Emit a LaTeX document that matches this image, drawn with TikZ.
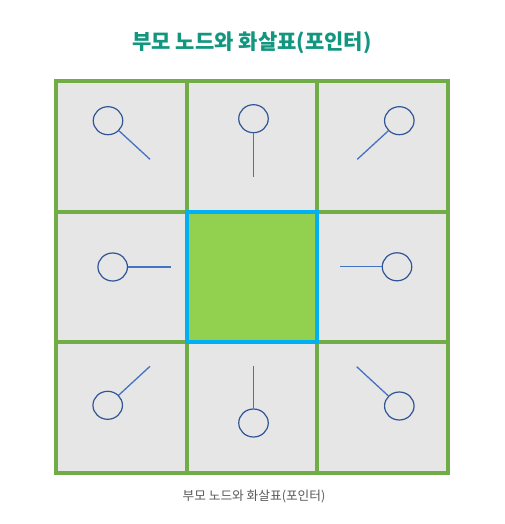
\documentclass[tikz,border=0pt]{standalone}
\usepackage{fontspec}
\newfontfamily\krfont{Noto Sans CJK KR}
\usetikzlibrary{shapes.geometric}
\definecolor{gridgreen}{HTML}{70AD47}
\definecolor{cellgray}{HTML}{E6E6E6}
\definecolor{leafgreen}{HTML}{92D050}
\definecolor{skyblue}{HTML}{00B0F0}
\definecolor{ringblue}{HTML}{2F5597}
\definecolor{stickblue}{HTML}{4472C4}
\definecolor{titleteal}{HTML}{13967F}
\definecolor{capgray}{HTML}{595959}

\begin{document}
\begin{tikzpicture}[x=1pt, y=-1pt]
\tikzstyle{cellbox} = [rectangle, draw=gridgreen, fill=cellgray, line width=4pt, minimum size=130.7pt, inner sep=0pt, outer sep=0pt]
\tikzstyle{parentbox} = [cellbox, draw=skyblue, fill=leafgreen]
\tikzstyle{ring} = [ellipse, draw=ringblue, line width=1.2pt, minimum width=29.5pt, minimum height=28pt, inner sep=0pt]
\tikzstyle{stick} = [draw=stickblue, line width=1.3pt]

\useasboundingbox (0,0) rectangle (505,524);

\node (title) at (252,43) {\krfont\bfseries\fontsize{21}{25}\selectfont\color{titleteal}부모 노드와 화살표(포인터)};

% 3x3 grid of cells
\foreach \r in {0,1,2} {
  \foreach \c in {0,1,2} {
    \node (cell\r\c) [cellbox] at (121.35+130.7*\c, 146.35+130.7*\r) {};
  }
}
\node (parent) [parentbox] at (cell11) {};

% pointers toward the parent
\node (p1) [ring] at (108,120.7) {};
\node (p2) [ring] at (253.5,118.7) {};
\node (p3) [ring] at (399.3,120.7) {};
\node (p4) [ring] at (112.7,267) {};
\node (p5) [ring] at (397,266.8) {};
\node (p6) [ring] at (107.7,405.3) {};
\node (p7) [ring] at (253.5,423) {};
\node (p8) [ring] at (399.3,406) {};

\coordinate (e1) at (150,159.3);
\coordinate (e2) at (253.5,176.7);
\coordinate (e3) at (357.3,159.3);
\coordinate (e4) at (170.7,267);
\coordinate (e5) at (339.7,266.8);
\coordinate (e6) at (150,366.3);
\coordinate (e7) at (253.5,366);
\coordinate (e8) at (356.7,366.7);

\foreach \i in {1,...,8}
  \draw [stick] (p\i) -- (e\i);

\node (caption) at (254,496) {\krfont\fontsize{12.7}{15}\selectfont\color{capgray}부모 노드와 화살표(포인터)};
\end{tikzpicture}
\end{document}
